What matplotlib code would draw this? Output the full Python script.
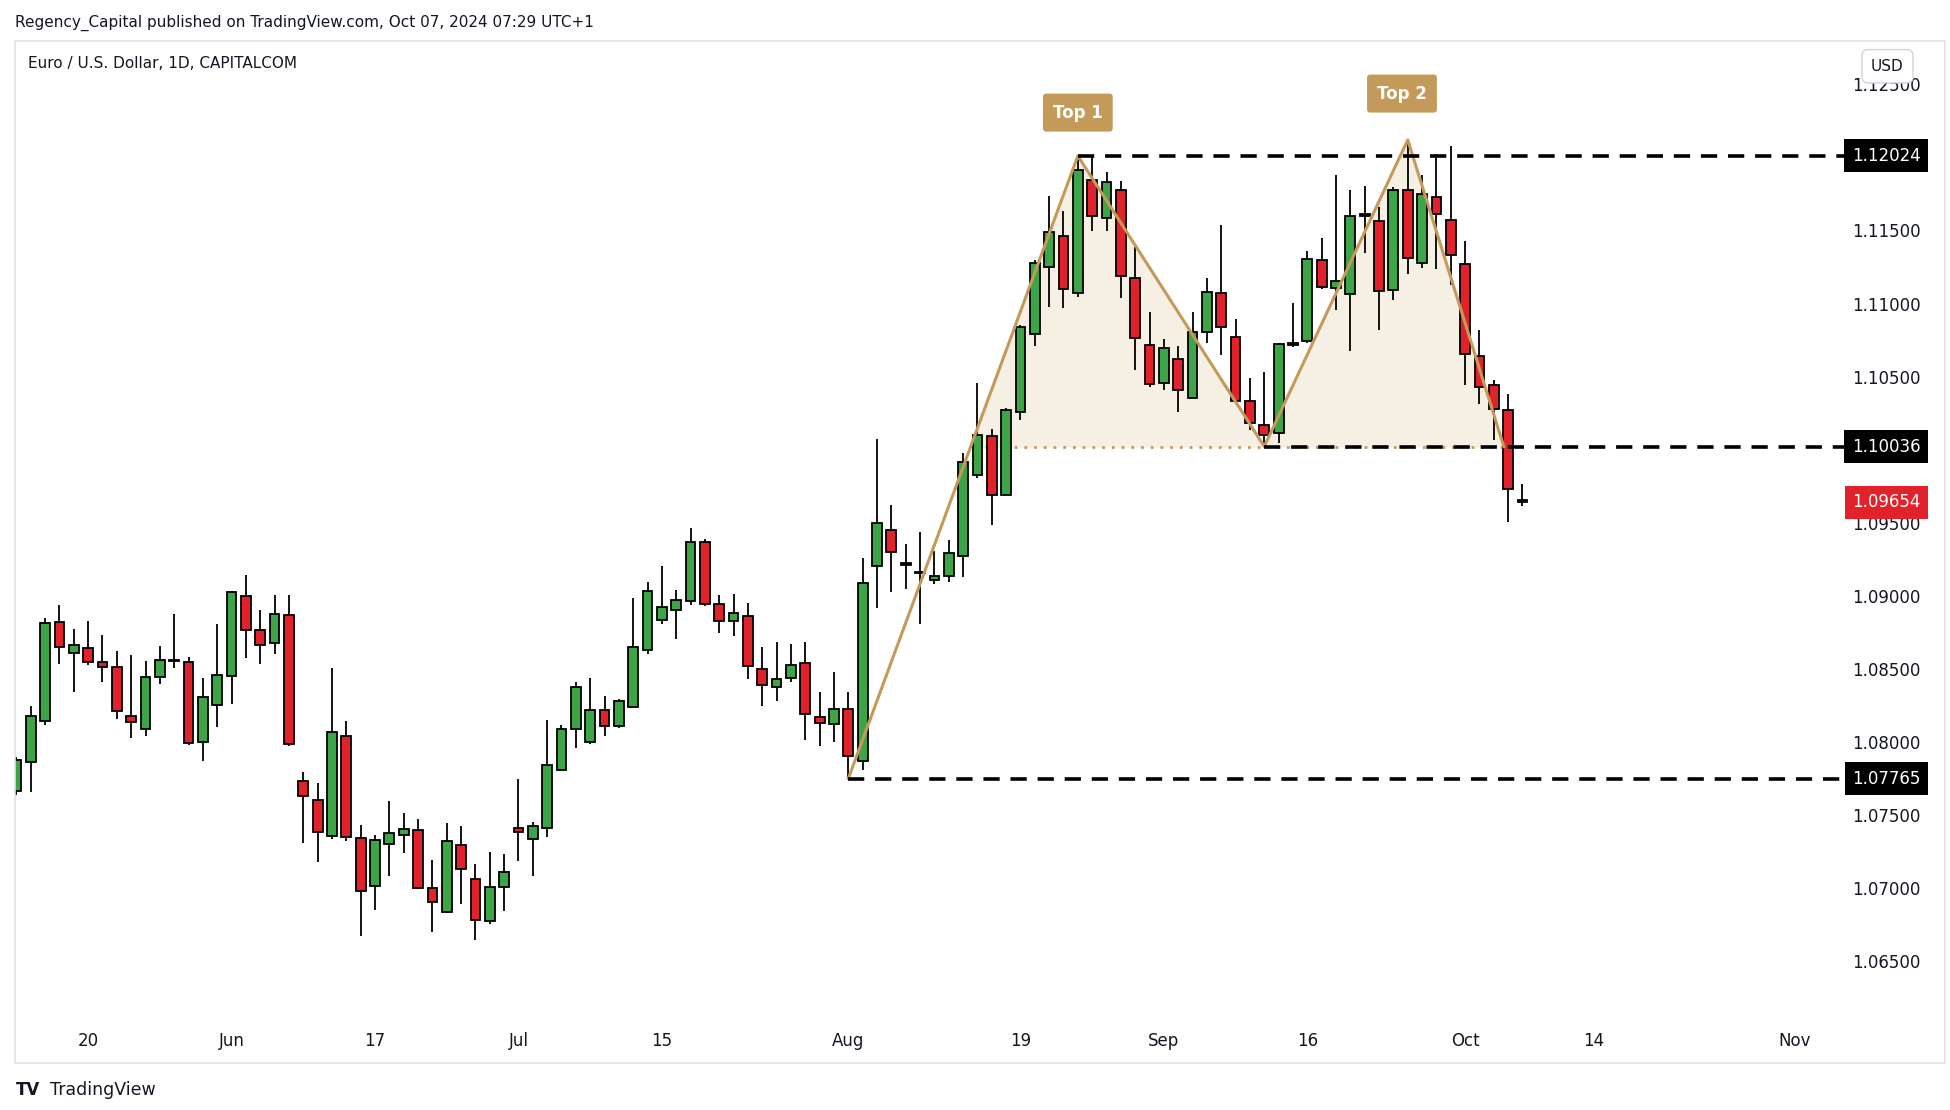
import numpy as np
import pandas as pd
import matplotlib
matplotlib.use("Agg")
import matplotlib.pyplot as plt
from matplotlib.patches import Rectangle
import matplotlib.transforms as mtransforms

plt.rcParams['font.family'] = 'DejaVu Sans'

# --- EURUSD daily candles, May 13 - Oct 07 2024 ---
dates = pd.bdate_range('2024-05-13', '2024-10-07')

opens = [1.07683, 1.07879, 1.08161, 1.08839, 1.08626, 1.08661, 1.08565, 1.08531, 1.08192, 1.08104,
         1.08462, 1.08572, 1.08565, 1.08016, 1.08266, 1.08467, 1.09011, 1.08783, 1.08692, 1.08886,
         1.07746, 1.07616, 1.07371, 1.08055, 1.07357, 1.07033, 1.07315, 1.07376, 1.07411, 1.07014,
         1.06852, 1.07308, 1.07075, 1.06788, 1.07021, 1.07425, 1.07352, 1.07425, 1.07822, 1.08104,
         1.08016, 1.08234, 1.08126, 1.08256, 1.08641, 1.08847, 1.08920, 1.08977, 1.09385, 1.08959,
         1.08842, 1.08876, 1.08517, 1.08391, 1.08452, 1.08554, 1.08189, 1.08140, 1.08238, 1.07885,
         1.09220, 1.09465, 1.09241, 1.09177, 1.09124, 1.09152, 1.09290, 1.09839, 1.10106, 1.09701,
         1.10272, 1.10806, 1.11263, 1.11474, 1.11085, 1.11858, 1.11597, 1.11790, 1.11186, 1.10732,
         1.10471, 1.10634, 1.10370, 1.10821, 1.11088, 1.10787, 1.10345, 1.10183, 1.10127, 1.10729,
         1.10759, 1.11315, 1.11121, 1.11082, 1.11612, 1.11577, 1.11109, 1.11790, 1.11288, 1.11742,
         1.11584, 1.11281, 1.10655, 1.10456, 1.10284, 1.09672]
highs = [1.07910, 1.08259, 1.08862, 1.08950, 1.08786, 1.08842, 1.08744, 1.08636, 1.08607, 1.08572,
         1.08670, 1.08889, 1.08594, 1.08450, 1.08820, 1.09048, 1.09156, 1.08915, 1.09018, 1.09018,
         1.07812, 1.07734, 1.08518, 1.08161, 1.07445, 1.07379, 1.07612, 1.07531, 1.07489, 1.07207,
         1.07462, 1.07440, 1.07180, 1.07263, 1.07249, 1.07763, 1.07470, 1.08168, 1.08134, 1.08425,
         1.08450, 1.08332, 1.08308, 1.09000, 1.09109, 1.09219, 1.09055, 1.09479, 1.09404, 1.09023,
         1.09029, 1.08968, 1.08667, 1.08701, 1.08686, 1.08701, 1.08354, 1.08492, 1.08354, 1.09275,
         1.10088, 1.09634, 1.09367, 1.09453, 1.09318, 1.09395, 1.09993, 1.10471, 1.10155, 1.10299,
         1.10864, 1.11309, 1.11747, 1.11649, 1.12011, 1.12024, 1.11913, 1.11852, 1.11401, 1.10953,
         1.10772, 1.10726, 1.10953, 1.11192, 1.11551, 1.10910, 1.10502, 1.10548, 1.10747, 1.11017,
         1.11370, 1.11462, 1.11896, 1.11793, 1.11820, 1.11671, 1.11813, 1.12141, 1.11896, 1.12034,
         1.12089, 1.11442, 1.10830, 1.10490, 1.10396, 1.09777]
lows = [1.07650, 1.07670, 1.08131, 1.08548, 1.08357, 1.08540, 1.08425, 1.08175, 1.08045, 1.08053,
        1.08410, 1.08518, 1.07996, 1.07888, 1.08116, 1.08278, 1.08589, 1.08548, 1.08614, 1.07990,
        1.07327, 1.07197, 1.07352, 1.07335, 1.06685, 1.06869, 1.07099, 1.07254, 1.07010, 1.06717,
        1.06845, 1.06910, 1.06661, 1.06771, 1.06859, 1.07200, 1.07099, 1.07366, 1.07822, 1.07972,
        1.08001, 1.08058, 1.08111, 1.08256, 1.08616, 1.08822, 1.08719, 1.08952, 1.08943, 1.08762,
        1.08738, 1.08446, 1.08262, 1.08293, 1.08428, 1.08029, 1.07986, 1.08017, 1.07765, 1.07824,
        1.08931, 1.09039, 1.09060, 1.08820, 1.09097, 1.09106, 1.09143, 1.09818, 1.09499, 1.09701,
        1.10220, 1.10723, 1.10993, 1.10984, 1.11060, 1.11508, 1.11508, 1.11054, 1.10557, 1.10441,
        1.10425, 1.10269, 1.10370, 1.10747, 1.10661, 1.10348, 1.10149, 1.10036, 1.10057, 1.10717,
        1.10747, 1.11115, 1.10967, 1.10687, 1.11362, 1.10832, 1.11038, 1.11217, 1.11259, 1.11252,
        1.11139, 1.10460, 1.10330, 1.10082, 1.09520, 1.09630]
closes = [1.07891, 1.08192, 1.08832, 1.08668, 1.08680, 1.08565, 1.08531, 1.08229, 1.08153, 1.08462,
          1.08577, 1.08575, 1.08009, 1.08325, 1.08474, 1.09038, 1.08783, 1.08678, 1.08893, 1.07999,
          1.07646, 1.07398, 1.08085, 1.07364, 1.06994, 1.07342, 1.07391, 1.07418, 1.07014, 1.06920,
          1.07335, 1.07143, 1.06800, 1.07026, 1.07129, 1.07398, 1.07442, 1.07861, 1.08102, 1.08393,
          1.08234, 1.08126, 1.08295, 1.08668, 1.09045, 1.08935, 1.08984, 1.09381, 1.08959, 1.08842,
          1.08897, 1.08538, 1.08403, 1.08443, 1.08545, 1.08204, 1.08146, 1.08244, 1.07916, 1.09103,
          1.09514, 1.09312, 1.09223, 1.09174, 1.09149, 1.09309, 1.09928, 1.10112, 1.09707, 1.10287,
          1.10855, 1.11293, 1.11502, 1.11115, 1.11925, 1.11613, 1.11846, 1.11201, 1.10775, 1.10465,
          1.10711, 1.10425, 1.10821, 1.11094, 1.10852, 1.10348, 1.10198, 1.10115, 1.10738, 1.10744,
          1.11316, 1.11130, 1.11171, 1.11612, 1.11625, 1.11100, 1.11790, 1.11323, 1.11763, 1.11625,
          1.11343, 1.10669, 1.10442, 1.10291, 1.09747, 1.09654]

# key levels and the double top zigzag
level_top = 1.12024
level_neck = 1.10036
level_low = 1.07765
last_price = 1.09654
zig_x = [58, 74, 87, 97, 103.7]
zig_y = [1.07765, 1.12024, 1.10036, 1.12133, 1.10036]

date_ticks = ['2024-05-20', '2024-06-03', '2024-06-17', '2024-07-01', '2024-07-15', '2024-08-01',
              '2024-08-19', '2024-09-02', '2024-09-16', '2024-10-01', '2024-10-14', '2024-11-01']
date_labels = ['20', 'Jun', '17', 'Jul', '15', 'Aug', '19', 'Sep', '16', 'Oct', '14', 'Nov']
price_ticks = [1.065, 1.070, 1.075, 1.080, 1.085, 1.090, 1.095, 1.105, 1.110, 1.115, 1.125]

GREEN = '#3da447'
RED = '#e1222b'
TAN = '#c49a5a'

W, H = 1560, 888  # layout measured on a 1560x888 view of the 1950x1110 image
fig = plt.figure(figsize=(19.5, 11.1), dpi=100, facecolor='white')
ax = fig.add_axes([12 / W, 1 - 815 / H, (1475 - 12) / W, (815 - 33) / H])
ax.set_facecolor('white')

o = np.array(opens); h = np.array(highs); l = np.array(lows); c = np.array(closes)
x = np.arange(len(dates))
up = c >= o
ax.vlines(x, l, h, color='black', lw=1.3, zorder=3)
ax.bar(x, np.maximum(np.abs(c - o), 0.00004), bottom=np.minimum(o, c), width=0.68,
       color=np.where(up, GREEN, RED), edgecolor='black', linewidth=1.3, zorder=4)

# double top shading + zigzag
zx = np.linspace(zig_x[0], zig_x[-1], 800)
zy = np.interp(zx, zig_x, zig_y)
ax.fill_between(zx, level_neck, zy, where=zy >= level_neck, color='#f6efe4', zorder=1, interpolate=True)
ax.plot(zig_x, zig_y, color=TAN, lw=2.2, zorder=5)
ax.plot([67.5, 103.7], [level_neck, level_neck], color=TAN, lw=2, ls=(0, (1, 2.5)), zorder=2)

xmax = 127.4
for lv, start in [(level_top, 74), (level_neck, 87), (level_low, 58)]:
    ax.plot([start, xmax], [lv, lv], color='black', lw=2.6, ls=(0, (4.5, 3)), zorder=6, clip_on=False)

for txt, xi, yv in [('Top 1', 74, 1.12320), ('Top 2', 96.6, 1.12450)]:
    ax.text(xi, yv, txt, color='white', fontsize=12, fontweight='bold', ha='center', va='center',
            zorder=7, bbox=dict(boxstyle='round,pad=0.6,rounding_size=0.2', fc=TAN, ec='none'))

ax.set_xlim(-0.1, xmax)
ax.set_ylim(1.06122, 1.12808)
ax.set_xticks([]); ax.set_yticks([])
for s in ax.spines.values():
    s.set_visible(False)

# price scale
trans_y = mtransforms.blended_transform_factory(ax.transAxes, ax.transData)
xlab = 1 + (1509 - 1475) / 1463
for p in price_ticks:
    ax.text(xlab, p, f'{p:.5f}', transform=trans_y, ha='center', va='center', fontsize=12,
            color='#131722', clip_on=False)
for lv, fc in [(level_top, 'black'), (level_neck, 'black'), (level_low, 'black'), (last_price, RED)]:
    ax.text(xlab, lv, f'{lv:.5f}', transform=trans_y, ha='center', va='center', fontsize=12,
            color='white', clip_on=False, zorder=8,
            bbox=dict(boxstyle='square,pad=0.45', fc=fc, ec='none'))

# time scale
trans_x = mtransforms.blended_transform_factory(ax.transData, ax.transAxes)
idx = {d.strftime('%Y-%m-%d'): i for i, d in enumerate(dates)}
for d, lab in zip(date_ticks, date_labels):
    dt = pd.Timestamp(d)
    if d in idx:
        xi = idx[d]
    else:
        xi = len(dates) - 1 + len(pd.bdate_range(dates[-1], dt)) - 1
    ax.text(xi, -18 / 782, lab, transform=trans_x, ha='center', va='center', fontsize=12,
            color='#131722', clip_on=False)

# frame, headers, USD box, logo
fig.patches.append(Rectangle((12 / W, 1 - 850 / H), (1556 - 12) / W, (850 - 33) / H,
                             transform=fig.transFigure, fill=False, ec='#e0e3eb', lw=1.2))
fig.text(12 / W, 1 - 18 / H, 'Regency_Capital published on TradingView.com, Oct 07, 2024 07:29 UTC+1',
         fontsize=11, color='#131722', va='center')
fig.text(22 / W, 1 - 51 / H, 'Euro / U.S. Dollar, 1D, CAPITALCOM', fontsize=11, color='#131722', va='center')
fig.text(1510 / W, 1 - 53 / H, 'USD', fontsize=11, color='#131722', ha='center', va='center', zorder=10,
         bbox=dict(boxstyle='round,pad=0.6,rounding_size=0.4', fc='white', ec='#d1d4dc'))
fig.text(13 / W, 1 - 872 / H, 'TV', fontsize=12, fontweight='bold', color='#131722', va='center')
fig.text(40 / W, 1 - 872 / H, 'TradingView', fontsize=12.5, color='#131722', va='center')

fig.savefig('out.png', dpi=100, facecolor='white')
